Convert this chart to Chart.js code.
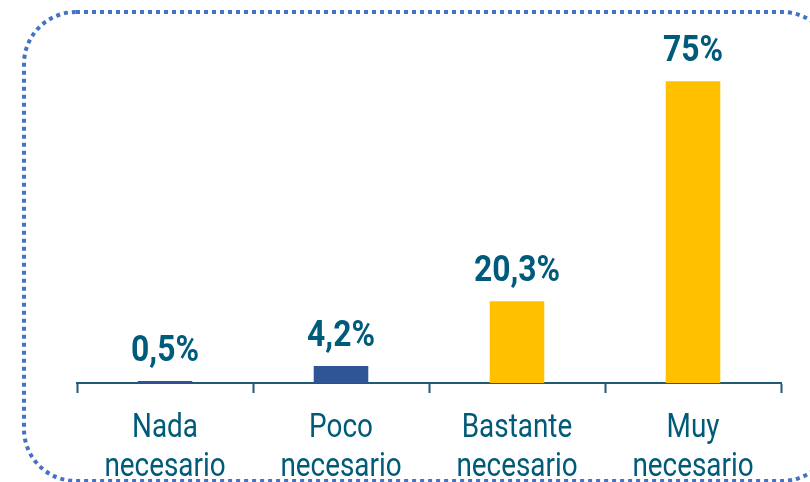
<!DOCTYPE html>
<html>
<head>
<meta charset="utf-8">
<script src="https://cdn.jsdelivr.net/npm/chart.js@4/dist/chart.umd.min.js"></script>
<style>
  html, body { margin: 0; padding: 0; background: #fff; }
  #wrap { width: 810px; height: 482px; position: relative; }
</style>
</head>
<body>
<div id="wrap"><canvas id="chart"></canvas></div>
<script>
// data
var categories = [["Nada", "necesario"], ["Poco", "necesario"], ["Bastante", "necesario"], ["Muy", "necesario"]];
var values = [0.5, 4.2, 20.3, 75];
var valueLabels = ["0,5%", "4,2%", "20,3%", "75%"];
var barColors = ["#2F5597", "#2F5597", "#FFC000", "#FFC000"];

var textColor = "#005A7A";
var fontFamily = "'Roboto', 'Liberation Sans', sans-serif";

// dotted rounded frame around the chart
var framePlugin = {
    id: 'frame',
    beforeDraw: function (chart) {
        var ctx = chart.ctx;
        ctx.save();
        ctx.strokeStyle = "#4472C4";
        ctx.lineWidth = 4;
        ctx.setLineDash([4, 4]);
        ctx.beginPath();
        ctx.roundRect(24, 12, 810, 469, 52);
        ctx.stroke();
        ctx.restore();
    }
};

// value labels above bars + condensed category labels under the axis
var labelPlugin = {
    id: 'labels',
    afterDatasetsDraw: function (chart) {
        var ctx = chart.ctx;
        var meta = chart.getDatasetMeta(0);
        var xScale = chart.scales.x;
        ctx.save();
        ctx.fillStyle = textColor;
        ctx.textAlign = "center";
        ctx.textBaseline = "alphabetic";

        ctx.font = "bold 37px " + fontFamily;
        meta.data.forEach(function (bar, i) {
            ctx.save();
            ctx.translate(bar.x, bar.y - 20);
            ctx.scale(0.86, 1);
            ctx.fillText(valueLabels[i], 0, 0);
            ctx.restore();
        });

        ctx.font = "34px " + fontFamily;
        var base = xScale.top;
        categories.forEach(function (lines, i) {
            var x = xScale.getPixelForValue(i);
            lines.forEach(function (line, j) {
                ctx.save();
                ctx.translate(x, base + 54 + j * 39);
                ctx.scale(0.82, 1);
                ctx.fillText(line, 0, 0);
                ctx.restore();
            });
        });
        ctx.restore();
    }
};

new Chart(document.getElementById('chart'), {
    type: 'bar',
    data: {
        labels: categories,
        datasets: [{
            data: values,
            backgroundColor: barColors,
            barPercentage: 0.31,
            categoryPercentage: 1
        }]
    },
    options: {
        responsive: true,
        maintainAspectRatio: false,
        animation: false,
        layout: {
            padding: { left: 77, right: 29, top: 21, bottom: 89 }
        },
        plugins: {
            legend: { display: false },
            tooltip: { enabled: false }
        },
        scales: {
            y: {
                display: false,
                min: 0,
                max: 90
            },
            x: {
                offset: true,
                grid: {
                    offset: true,
                    drawOnChartArea: false,
                    tickLength: 10,
                    tickWidth: 2,
                    color: "#1F5A78"
                },
                border: { color: "#1F5A78", width: 2 },
                ticks: { display: false }
            }
        }
    },
    plugins: [framePlugin, labelPlugin]
});
</script>
</body>
</html>
